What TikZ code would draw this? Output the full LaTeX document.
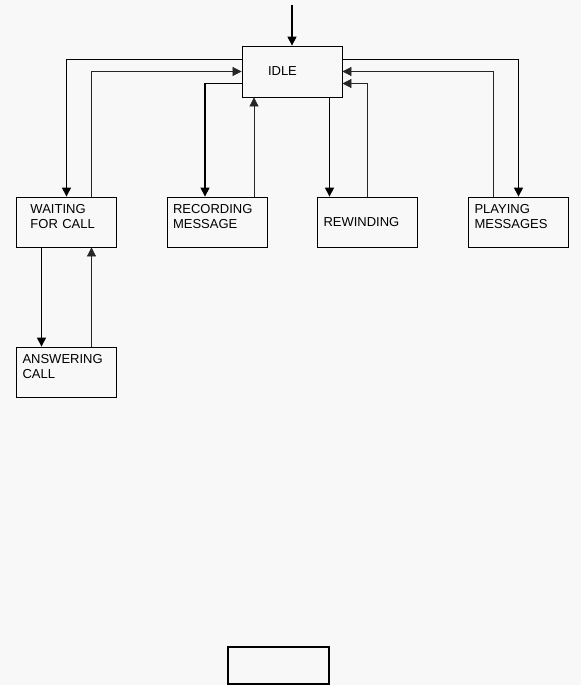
\documentclass[tikz,border=0pt]{standalone}
\usepackage{fontspec}
\setmainfont{Liberation Sans}
\usepackage{xcolor}
\usetikzlibrary{arrows.meta, positioning, calc}

\definecolor{paper}{RGB}{248,248,248}

\begin{document}
\begin{tikzpicture}[
    x=1pt, y=-1pt,
    % Styles
    state/.style={rectangle, draw=black, line width=0.8pt, minimum width=100pt, minimum height=50pt, inner xsep=6pt, inner ysep=0pt, text width=88pt, align=left, font=\fontsize{13}{15}\selectfont},
    twoline/.style={execute at end node={\endgraf\vspace*{10pt}}},
    blankbox/.style={rectangle, draw=black, line width=1.4pt, minimum width=101pt, minimum height=37pt},
    fwd/.style={-{Triangle[width=9pt,length=9pt]}, line width=1.1pt, draw=black},
    back/.style={-{Triangle[width=9pt,length=9pt]}, line width=0.7pt, draw=black!85}
]

    % background and page size
    \fill[paper] (0,0) rectangle (581,685);
    \useasboundingbox (0,0) rectangle (581,685);

    % --- States ---
    \node[state, minimum height=51pt, inner xsep=26pt, text width=48pt] (idle) at (292,71.5) {IDLE};

    \node[state, twoline, inner xsep=14pt, text width=72pt] (wait) at (66.5,222) {WAITING\\FOR CALL};
    \node[state, twoline] (rec) at (217,222) {RECORDING\\MESSAGE};
    \node[state] (rew) at (367.5,222) {REWINDING};
    \node[state, twoline] (play) at (518.5,222) {PLAYING\\MESSAGES};

    \node[state, twoline] (ans) at (66.5,372) {ANSWERING\\CALL};

    % empty box at the bottom
    \node[blankbox] (blank) at (278.5,665.5) {};

    % --- Entry arrow ---
    \coordinate (entry) at (292,5);
    \draw[fwd] (entry) -- (idle.north);

    % --- Left side ---
    \draw[fwd] ([yshift=12pt]idle.west) -| (wait.north);
    \draw[back] ([xshift=25pt]wait.north) |- (idle.west);
    \draw[fwd] ([yshift=-12pt]idle.west) -| ([xshift=-12pt]rec.north);
    \draw[back] ([xshift=37pt]rec.north) -- ([xshift=37pt]rec.north |- idle.south);

    % --- Right side ---
    \draw[fwd] ([xshift=-38pt]rew.north |- idle.south) -- ([xshift=-38pt]rew.north);
    \draw[back] (rew.north) |- ([yshift=-12pt]idle.east);
    \draw[fwd] ([yshift=12pt]idle.east) -| (play.north);
    \draw[back] ([xshift=-25pt]play.north) |- (idle.east);

    % --- Waiting <-> Answering ---
    \draw[fwd] ([xshift=-25pt]wait.south) -- ([xshift=-25pt]ans.north);
    \draw[back] ([xshift=25pt]ans.north) -- ([xshift=25pt]wait.south);

\end{tikzpicture}
\end{document}
